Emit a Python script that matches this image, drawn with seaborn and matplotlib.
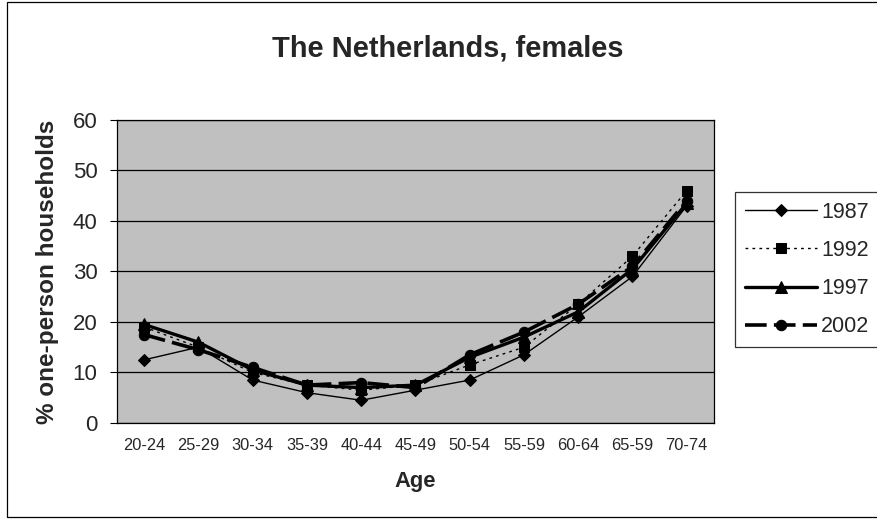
import numpy as np
import pandas as pd
import matplotlib
matplotlib.use("Agg")
import matplotlib.pyplot as plt
import seaborn as sns

# age groups (label typo "65-59" kept from the original chart)
ages = ['20-24', '25-29', '30-34', '35-39', '40-44', '45-49',
        '50-54', '55-59', '60-64', '65-59', '70-74']
y1987 = [12.5, 15.0, 8.5, 6.0, 4.5, 6.5, 8.5, 13.5, 21.0, 29.0, 43.0]
y1992 = [19.0, 15.0, 10.0, 7.5, 6.5, 7.5, 11.5, 15.0, 23.5, 33.0, 46.0]
y1997 = [19.5, 16.0, 10.5, 7.5, 7.0, 7.5, 13.0, 17.0, 22.0, 30.5, 43.5]
y2002 = [17.5, 14.5, 11.0, 7.5, 8.0, 7.0, 13.5, 18.0, 23.5, 31.0, 44.0]

series = {'1987': y1987, '1992': y1992, '1997': y1997, '2002': y2002}
styles = {
    '1987': dict(marker='D', lw=1.0, ls='-', ms=6.5),
    '1992': dict(marker='s', lw=1.0, ls=(0, (2, 3)), ms=7),
    '1997': dict(marker='^', lw=2.4, ls='-', ms=8),
    '2002': dict(marker='o', lw=2.6, ls=(0, (6, 2)), ms=7.5),
}

sns.set_style("white")
plt.rcParams['font.family'] = ['Liberation Sans', 'DejaVu Sans']

fig = plt.figure(figsize=(8.77, 5.19), dpi=100)
ax = fig.add_axes([0.1334, 0.185, 0.6806, 0.584])
ax.set_facecolor('#C0C0C0')

pos = np.arange(len(ages))
for name, vals in series.items():
    df = pd.DataFrame({'pos': pos, 'val': vals})
    st = styles[name]
    sns.lineplot(data=df, x='pos', y='val', ax=ax, color='black',
                 linewidth=st['lw'], linestyle=st['ls'], marker=st['marker'],
                 markersize=st['ms'], markeredgecolor='black', label=name)

ax.set_xlim(-0.5, len(ages) - 0.5)
ax.set_ylim(0, 60)
ax.set_yticks(range(0, 61, 10))
ax.yaxis.grid(True, color='black', lw=0.9)
ax.set_axisbelow(True)
ax.set_xticks(pos)
ax.set_xticklabels(ages, fontsize=11.8)
ax.set_xticks(np.arange(-0.5, len(ages), 1), minor=True)
ax.tick_params(axis='x', which='major', length=0, pad=11)
ax.tick_params(axis='x', which='minor', length=5, color='black', direction='out')
ax.tick_params(axis='y', length=5, color='black', direction='out', labelsize=16, pad=9)
ax.yaxis.set_tick_params(left=True)
for s in ax.spines.values():
    s.set_color('black')
    s.set_linewidth(0.9)

ax.set_xlabel('Age', fontsize=15.8, fontweight='bold', labelpad=13)
ax.set_ylabel('% one-person households', fontsize=17.5, fontweight='bold', labelpad=10)
fig.text(0.51, 0.907, 'The Netherlands, females', ha='center', va='center',
         fontsize=20.9, fontweight='bold')

ax.get_legend().remove()
handles, labels = ax.get_legend_handles_labels()
leg = fig.legend(handles, labels, loc='upper left', bbox_to_anchor=(0.838, 0.63),
                 frameon=True, fancybox=False, fontsize=15.5, handlelength=3.35,
                 handletextpad=0.2, labelspacing=0.8, borderpad=0.45,
                 borderaxespad=0)
leg.get_frame().set_edgecolor('black')
leg.get_frame().set_linewidth(0.9)

# outer chart border (right side runs off the picture)
fig.patches.append(plt.Rectangle((0.008, 0.004), 1.2, 0.992, transform=fig.transFigure,
                                 fill=False, edgecolor='black', lw=0.9))

fig.savefig('out.png', dpi=100, facecolor='white')
